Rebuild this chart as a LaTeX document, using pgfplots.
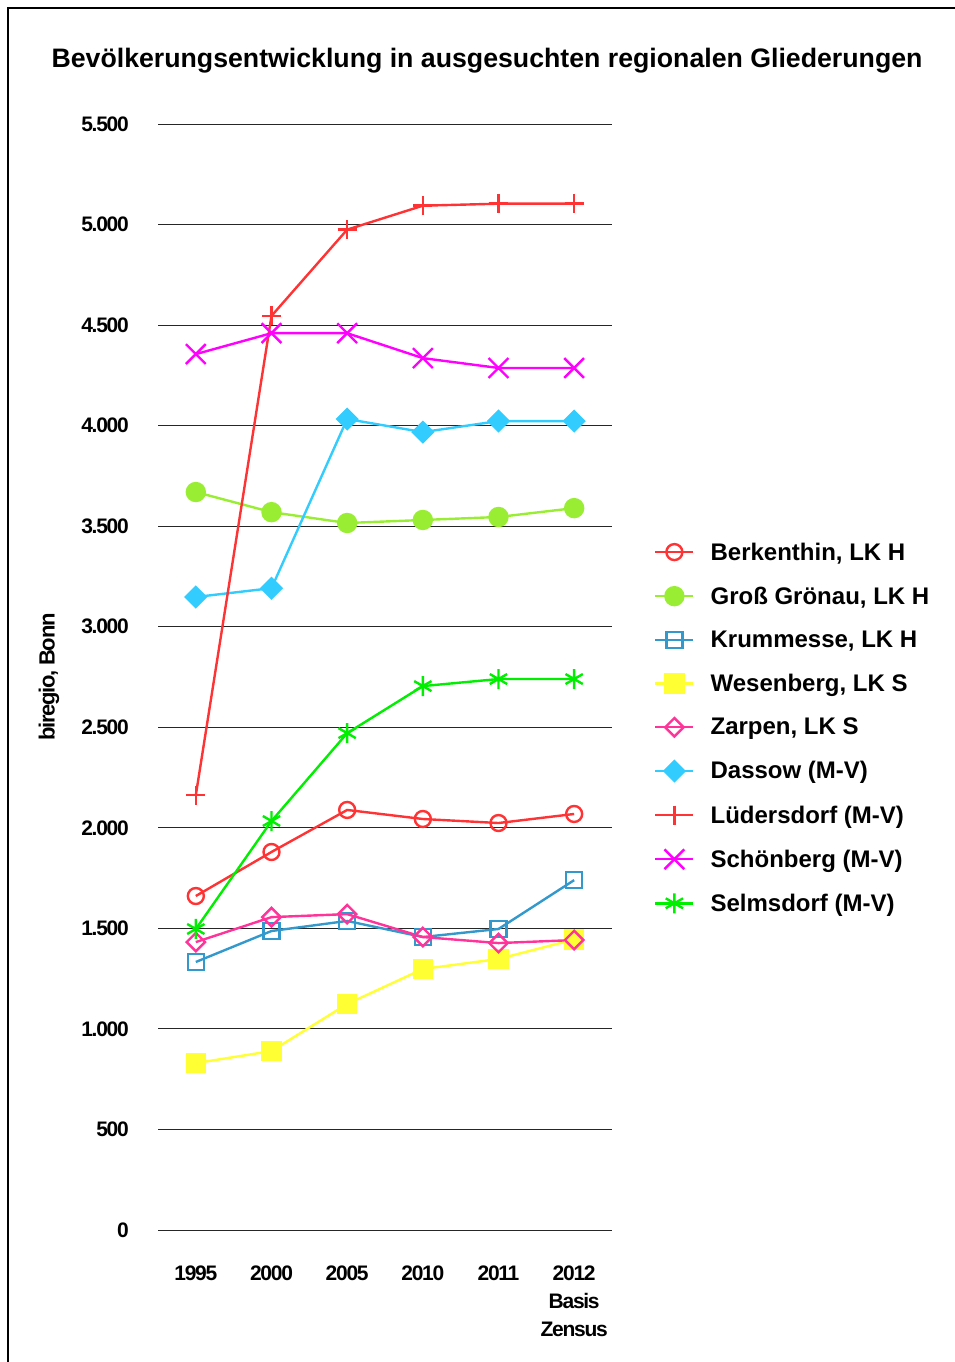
\documentclass[border=0pt]{standalone}
\usepackage{pgfplots}
\pgfplotsset{compat=1.18}
\usepackage{fontspec}
\setmainfont{Liberation Sans}
\newfontfamily\tickfont[LetterSpace=-6]{Liberation Sans}
\definecolor{cBerk}{RGB}{255,51,51}
\definecolor{cGross}{RGB}{153,238,51}
\definecolor{cKrum}{RGB}{51,153,204}
\definecolor{cWes}{RGB}{255,255,51}
\definecolor{cZarp}{RGB}{255,51,153}
\definecolor{cDass}{RGB}{51,204,255}
\definecolor{cLued}{RGB}{255,51,51}
\definecolor{cSchoen}{RGB}{255,0,255}
\definecolor{cSelms}{RGB}{0,238,0}
\begin{document}
\begin{tikzpicture}[x=1pt,y=1pt]
\draw[line width=1.2pt] (8,-1400) -- (8,-8) -- (1000,-8);
\node[font=\fontsize{26.7}{30}\selectfont\bfseries] at (487,-61) {Bevölkerungsentwicklung in ausgesuchten regionalen Gliederungen};
\begin{axis}[
  at={(158pt,-1230pt)}, anchor=south west,
  scale only axis, width=454pt, height=1106pt,
  xmin=-0.5, xmax=5.5, ymin=0, ymax=5500,
  xtick={0,...,5},
  xticklabels={1995,2000,2005,2010,2011,{2012\\Basis\\Zensus}},
  ytick={0,500,...,5500},
  ymajorgrids, grid style={black!85, line width=1pt},
  axis line style={draw=none}, major tick length=0pt, tick style={draw=none},
  clip=false,
  yticklabel style={font=\tickfont\bfseries\fontsize{21}{24}\selectfont, anchor=east, inner sep=0pt, xshift=-29pt},
  xticklabel style={font=\tickfont\bfseries\fontsize{21}{28}\selectfont, anchor=north, inner sep=0pt, yshift=-36pt, align=center},
  ylabel={biregio, Bonn},
  ylabel style={at={(axis description cs:-0.24,0.5)}, anchor=center, font=\tickfont\bfseries\fontsize{22}{24}\selectfont},
  legend style={at={(axis description cs:1.0925,0.6235)}, anchor=north west, draw=none, fill=none, inner sep=0pt,
    row sep=21.2pt, font=\fontsize{24}{26}\selectfont\bfseries,
    /tikz/every odd column/.append style={column sep=14pt}},
  legend cell align=left,
  legend image code/.code={\draw[mark repeat=2,mark phase=2] plot coordinates {(0pt,0pt) (19pt,0pt) (38pt,0pt)};},
  /pgf/number format/1000 sep={.},
  /pgf/number format/assume math mode=true,
]
\addplot[cBerk, line width=2.4pt, mark=o, mark size=8pt, mark options={fill=white, line width=2.4pt}] coordinates {(0,1661) (1,1880) (2,2089) (3,2044) (4,2024) (5,2069)};
\addlegendentry{Berkenthin, LK H}
\addplot[cGross, line width=2.4pt, mark=*, mark size=9pt, mark options={fill=cGross, draw=none}] coordinates {(0,3670) (1,3570) (2,3516) (3,3531) (4,3546) (5,3590)};
\addlegendentry{Groß Grönau, LK H}
\addplot[cKrum, line width=2.4pt, mark=square, mark size=8pt, mark options={fill=white, line width=2.4pt}] coordinates {(0,1333) (1,1487) (2,1537) (3,1457) (4,1497) (5,1740)};
\addlegendentry{Krummesse, LK H}
\addplot[cWes, line width=2.4pt, mark=square*, mark size=9pt, mark options={fill=cWes, draw=none}] coordinates {(0,830) (1,890) (2,1124) (3,1298) (4,1348) (5,1445)};
\addlegendentry{Wesenberg, LK S}
\addplot[cZarp, line width=2.4pt, mark=square, mark size=6.5pt, mark options={rotate=45, fill=white, line width=2.4pt}] coordinates {(0,1432) (1,1556) (2,1571) (3,1457) (4,1427) (5,1442)};
\addlegendentry{Zarpen, LK S}
\addplot[cDass, line width=2.4pt, mark=square*, mark size=7pt, mark options={rotate=45, fill=cDass, draw=none}] coordinates {(0,3148) (1,3192) (2,4033) (3,3968) (4,4023) (5,4023)};
\addlegendentry{Dassow (M-V)}
\addplot[cLued, line width=2.4pt, mark=+, mark size=9.5pt, mark options={line width=2.4pt}] coordinates {(0,2163) (1,4546) (2,4975) (3,5094) (4,5104) (5,5104)};
\addlegendentry{Lüdersdorf (M-V)}
\addplot[cSchoen, line width=2.4pt, mark=x, mark size=14pt, mark options={line width=2.4pt}] coordinates {(0,4356) (1,4460) (2,4460) (3,4336) (4,4287) (5,4287)};
\addlegendentry{Schönberg (M-V)}
\addplot[cSelms, line width=2.4pt, mark=asterisk, mark size=10pt, mark options={line width=2.4pt}] coordinates {(0,1497) (1,2034) (2,2471) (3,2705) (4,2740) (5,2740)};
\addlegendentry{Selmsdorf (M-V)}
\end{axis}
\pgfresetboundingbox
\path[use as bounding box] (0,0) rectangle (954,-1362);
\end{tikzpicture}
\end{document}
